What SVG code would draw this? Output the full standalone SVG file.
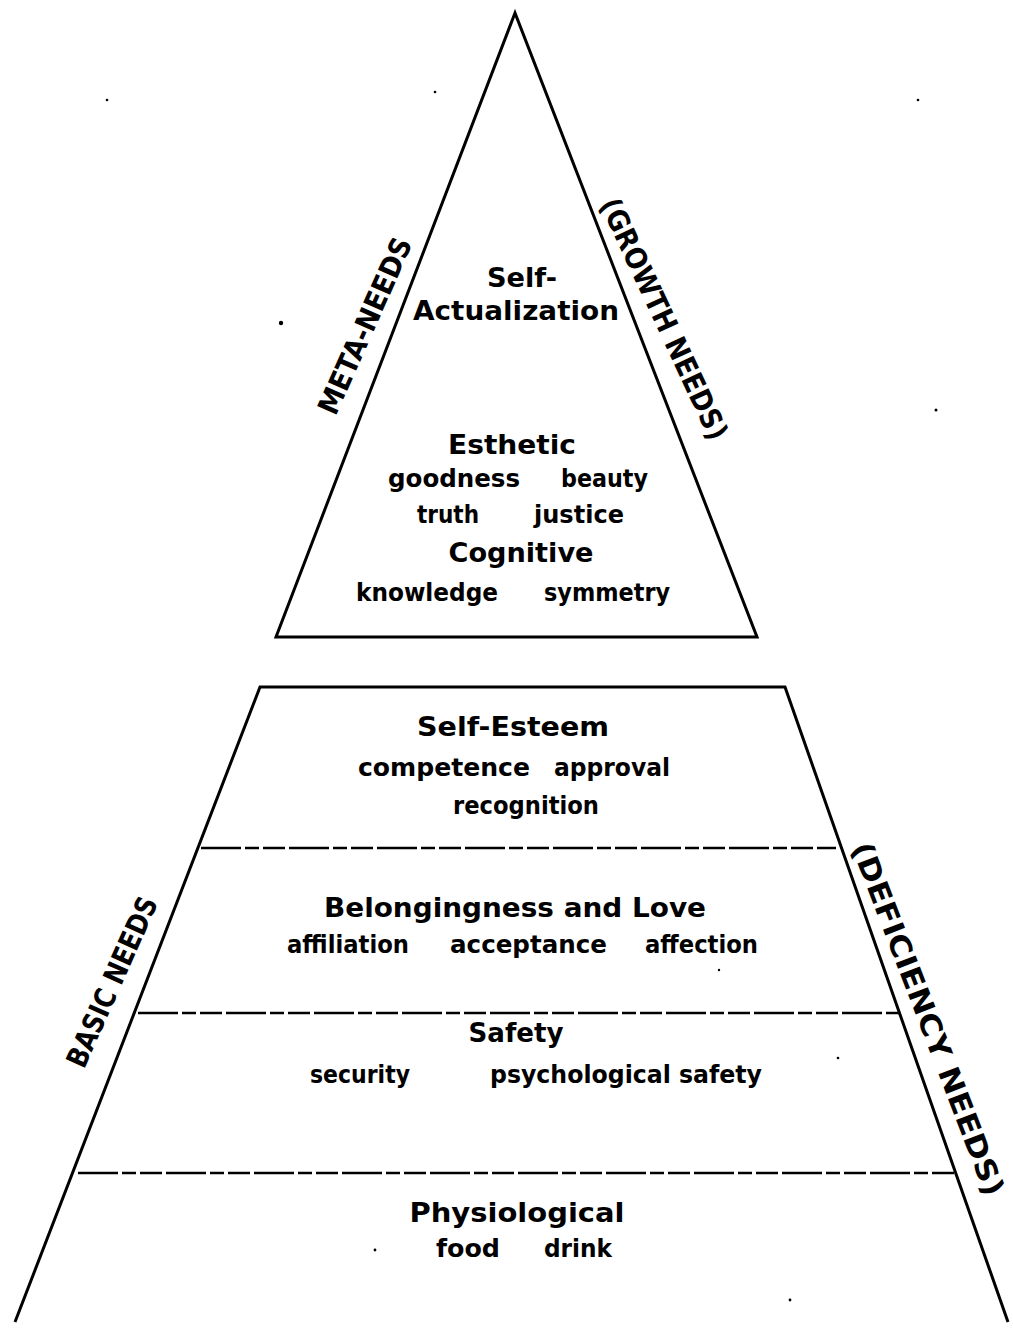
<svg xmlns="http://www.w3.org/2000/svg" width="1013" height="1333" viewBox="0 0 1013 1333">
<style>
.edge{fill:none;stroke:#000;stroke-width:3;stroke-linejoin:miter}
.dash{stroke:#000;stroke-width:2.6;stroke-dasharray:40 4 14 4 22 4}
text{font-family:"DejaVu Sans","Liberation Sans",sans-serif;font-weight:bold;fill:#000;text-anchor:middle}
.h{font-size:26px}
.w{font-size:25px;text-anchor:start}
.side{font-size:29px;dominant-baseline:central}
.dot{fill:#000}
</style>
<rect width="1013" height="1333" fill="#fff"/>
<g id="connectors">
  <line class="dash" x1="201" y1="848" x2="836" y2="848"/>
  <line class="dash" x1="138" y1="1013" x2="904" y2="1013"/>
  <line class="dash" x1="78" y1="1173" x2="958" y2="1173"/>
</g>
<g id="meta-needs">
  <polygon class="edge" points="515,13 276,637 757,637"/>
  <text class="h" x="522" y="287" font-size="24" textLength="70" lengthAdjust="spacingAndGlyphs">Self-</text>
  <text class="h" x="516" y="320" textLength="206" lengthAdjust="spacingAndGlyphs">Actualization</text>
  <text class="h" x="512" y="454" textLength="128" lengthAdjust="spacingAndGlyphs">Esthetic</text>
  <text class="w" x="388" y="487" textLength="132" lengthAdjust="spacingAndGlyphs">goodness</text>
  <text class="w" x="561" y="487" textLength="87" lengthAdjust="spacingAndGlyphs">beauty</text>
  <text class="w" x="417" y="523" textLength="62" lengthAdjust="spacingAndGlyphs">truth</text>
  <text class="w" x="534" y="523" textLength="90" lengthAdjust="spacingAndGlyphs">justice</text>
  <text class="h" x="521" y="562" textLength="145" lengthAdjust="spacingAndGlyphs">Cognitive</text>
  <text class="w" x="356" y="601" textLength="142" lengthAdjust="spacingAndGlyphs">knowledge</text>
  <text class="w" x="544" y="601" textLength="126" lengthAdjust="spacingAndGlyphs">symmetry</text>
  <text class="side" transform="translate(365,326) rotate(-66)" textLength="190" lengthAdjust="spacingAndGlyphs">META-NEEDS</text>
  <text class="side" transform="translate(664,319) rotate(65)" textLength="263" lengthAdjust="spacingAndGlyphs">(GROWTH NEEDS)</text>
</g>
<g id="basic-needs">
  <polyline class="edge" points="15,1322 260,687 785,687 1008,1322"/>
  <text class="side" transform="translate(112,982) rotate(-66)" textLength="183" lengthAdjust="spacingAndGlyphs">BASIC NEEDS</text>
  <text class="side" transform="translate(928,1019) rotate(69)" textLength="376" lengthAdjust="spacingAndGlyphs">(DEFICIENCY NEEDS)</text>
</g>
<g id="self-esteem">
  <text class="h" x="513" y="736" textLength="192" lengthAdjust="spacingAndGlyphs">Self-Esteem</text>
  <text class="w" x="358" y="776" font-weight="normal" textLength="172" lengthAdjust="spacingAndGlyphs">competence</text>
  <text class="w" x="554" y="776" textLength="116" lengthAdjust="spacingAndGlyphs">approval</text>
  <text class="w" x="453" y="814" textLength="146" lengthAdjust="spacingAndGlyphs">recognition</text>
</g>
<g id="belongingness">
  <text class="h" x="515" y="917" textLength="382" lengthAdjust="spacingAndGlyphs">Belongingness and Love</text>
  <text class="w" x="287" y="953" textLength="122" lengthAdjust="spacingAndGlyphs">affiliation</text>
  <text class="w" x="450" y="953" textLength="157" lengthAdjust="spacingAndGlyphs">acceptance</text>
  <text class="w" x="645" y="953" textLength="113" lengthAdjust="spacingAndGlyphs">affection</text>
</g>
<g id="safety">
  <text class="h" x="516" y="1042" textLength="95" lengthAdjust="spacingAndGlyphs">Safety</text>
  <text class="w" x="310" y="1083" textLength="100" lengthAdjust="spacingAndGlyphs">security</text>
  <text class="w" x="490" y="1083" textLength="272" lengthAdjust="spacingAndGlyphs">psychological safety</text>
</g>
<g id="physiological">
  <text class="h" x="517" y="1222" textLength="215" lengthAdjust="spacingAndGlyphs">Physiological</text>
  <text class="w" x="436" y="1257" textLength="64" lengthAdjust="spacingAndGlyphs">food</text>
  <text class="w" x="544" y="1257" textLength="68" lengthAdjust="spacingAndGlyphs">drink</text>
</g>
<g id="specks">
  <circle class="dot" cx="281" cy="323" r="2.2"/>
  <circle class="dot" cx="107" cy="100" r="1.3"/>
  <circle class="dot" cx="435" cy="92" r="1.3"/>
  <circle class="dot" cx="918" cy="100" r="1.3"/>
  <circle class="dot" cx="936" cy="410" r="1.5"/>
  <circle class="dot" cx="719" cy="970" r="1.2"/>
  <circle class="dot" cx="838" cy="1058" r="1.3"/>
  <circle class="dot" cx="375" cy="1250" r="1.4"/>
  <circle class="dot" cx="790" cy="1300" r="1.4"/>
</g>
</svg>
